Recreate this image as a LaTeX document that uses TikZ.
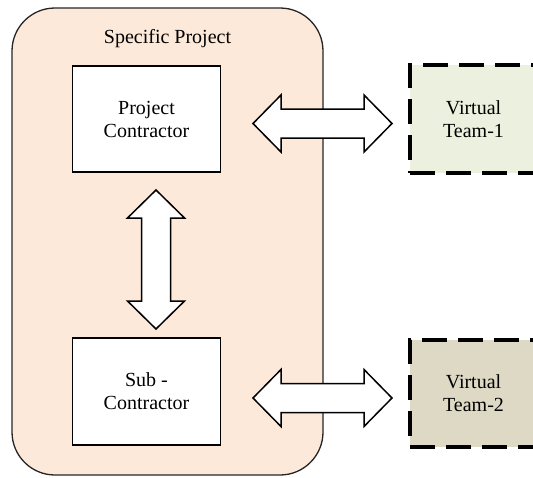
\documentclass[tikz,border=0pt]{standalone}
\usepackage{fontspec}
\setmainfont{Liberation Serif}
\definecolor{projfill}{HTML}{FDE9D9}
\definecolor{teamonefill}{HTML}{EBF1DE}
\definecolor{teamtwofill}{HTML}{DDD9C4}
\tikzset{
  blockarrow/.style={draw=black, line width=1.5pt, fill=white, line join=miter},
  dblarrow/.pic={
    \path[blockarrow] (-69.5,0) -- (-41.5,-28.5) -- (-41.5,-14.5) -- (41.5,-14.5)
      -- (41.5,-28.5) -- (69.5,0) -- (41.5,28.5) -- (41.5,14.5)
      -- (-41.5,14.5) -- (-41.5,28.5) -- cycle;
  },
}
\begin{document}
\begin{tikzpicture}[x=1pt,y=-1pt,
  every node/.style={font=\fontsize{20}{23}\selectfont, align=center, inner sep=0pt, outer sep=0pt},
  box/.style={draw=black, line width=1.2pt, fill=white, minimum width=148pt, minimum height=106pt},
  team/.style={draw=black, line width=4pt, dash pattern=on 25pt off 11pt,
               minimum width=127pt, minimum height=108pt},
]
\path[use as bounding box] (0,0) rectangle (533,477);
\clip (0,0) rectangle (533,477);
\fill[white] (0,0) rectangle (533,477);

% project container
\node[draw=black!85, line width=1.3pt, fill=projfill, rounded corners=43pt,
      minimum width=311pt, minimum height=467pt] (proj) at (167.5,241.5) {};
\node[anchor=base] (title) at (167.5,43) {Specific Project};

% parties inside the project
\node[box] (pc)  at (146.5,119)   {Project\\Contractor};
\node[box, minimum height=107pt] (sub) at (146.5,391.5) {Sub -\\Contractor};

% virtual teams
\node[team, fill=teamonefill] (vt1) at (473.5,119)   {Virtual\\Team-1};
\node[team, fill=teamtwofill, minimum height=107pt] (vt2) at (473.5,393.5) {Virtual\\Team-2};

% two-way links
\pic (linkA) at (322.5,123.5) {dblarrow};
\pic (linkB) at (322.5,398) {dblarrow};
\pic[rotate=90] (linkC) at (156,259.5) {dblarrow};
\end{tikzpicture}
\end{document}
